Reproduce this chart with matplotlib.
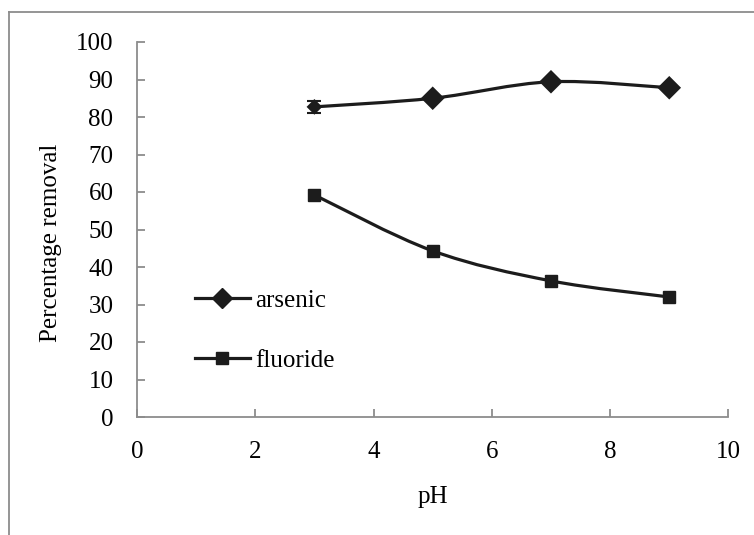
import matplotlib
matplotlib.use("Agg")
import matplotlib.pyplot as plt
from matplotlib.path import Path
from matplotlib.patches import PathPatch
from matplotlib.lines import Line2D
import numpy as np

# --- Data ---
ph = [3, 5, 7, 9]
arsenic = [82.7, 85.0, 89.4, 87.8]
arsenic_err = [1.6, 0.0, 0.0, 0.0]
fluoride = [59.2, 44.3, 36.3, 32.0]

x_ticks = [0, 2, 4, 6, 8, 10]
y_ticks = [0, 10, 20, 30, 40, 50, 60, 70, 80, 90, 100]

LINE = "#1c1c1c"
AXIS = "#8c8c8c"
FS = 18

plt.rcParams["font.family"] = ["Liberation Serif", "DejaVu Serif"]


def smooth_path(xs, ys):
    """Bezier path through the points, Excel-style smoothed line."""
    pts = np.column_stack([xs, ys]).astype(float)
    padded = np.vstack([pts[0], pts, pts[-1]])
    verts = [pts[0]]
    codes = [Path.MOVETO]
    for i in range(len(pts) - 1):
        p0, p1, p2, p3 = padded[i], padded[i + 1], padded[i + 2], padded[i + 3]
        c1 = p1 + (p2 - p0) / 6.0
        c2 = p2 - (p3 - p1) / 6.0
        verts += [c1, c2, p2]
        codes += [Path.CURVE4] * 3
    return Path(verts, codes)


fig = plt.figure(figsize=(7.54, 5.35), dpi=100)
ax = fig.add_axes([137 / 754, 1 - 417 / 535, (728.4 - 137) / 754, (417 - 42) / 535])
ax.set_facecolor("none")

# smoothed connecting lines
for ys in (arsenic, fluoride):
    ax.add_patch(PathPatch(smooth_path(ph, ys), fill=False, edgecolor=LINE, lw=2.3, zorder=3))

ax.errorbar(ph, arsenic, yerr=arsenic_err, fmt="none", ecolor=LINE, elinewidth=1.5,
            capsize=5, capthick=1.5, zorder=4)
ax.scatter(ph, arsenic, marker="D", s=[8 ** 2, 12 ** 2, 12 ** 2, 12 ** 2],
           color=LINE, linewidths=0, zorder=5)
ax.plot(ph, fluoride, linestyle="none", marker="s", markersize=8.5, color=LINE, zorder=5)

ax.set_xlim(0, 10)
ax.set_ylim(0, 100)
ax.set_xticks(x_ticks)
ax.set_yticks(y_ticks)

for side in ("top", "right"):
    ax.spines[side].set_visible(False)
for side in ("left", "bottom"):
    ax.spines[side].set_color(AXIS)
    ax.spines[side].set_linewidth(1.3)

ax.tick_params(axis="both", direction="in", length=6, width=1.3, color=AXIS,
               labelsize=FS, labelcolor="black")
ax.tick_params(axis="x", pad=17)
ax.tick_params(axis="y", pad=17)

ax.set_xlabel("pH", fontsize=FS)
ax.xaxis.set_label_coords(0.5, -0.185)
ax.set_ylabel("Percentage removal", fontsize=FS)
ax.yaxis.set_label_coords(-0.127, 0.464)

handles = [
    Line2D([], [], color=LINE, lw=2.3, marker="D", markersize=10),
    Line2D([], [], color=LINE, lw=2.3, marker="s", markersize=8.5),
]
leg = ax.legend(handles, ["arsenic", "fluoride"], loc="lower left",
                bbox_to_anchor=(0.06, 0.06), frameon=False, fontsize=FS,
                handlelength=2.2, handletextpad=0.2, labelspacing=1.5)

# outer frame around the figure
fig.add_artist(Line2D([9 / 754, 9 / 754], [0, 1 - 12 / 535], color=AXIS, lw=1.3))
fig.add_artist(Line2D([9 / 754, 1], [1 - 12 / 535, 1 - 12 / 535], color=AXIS, lw=1.3))

fig.savefig("out.png", dpi=100, facecolor="white")
